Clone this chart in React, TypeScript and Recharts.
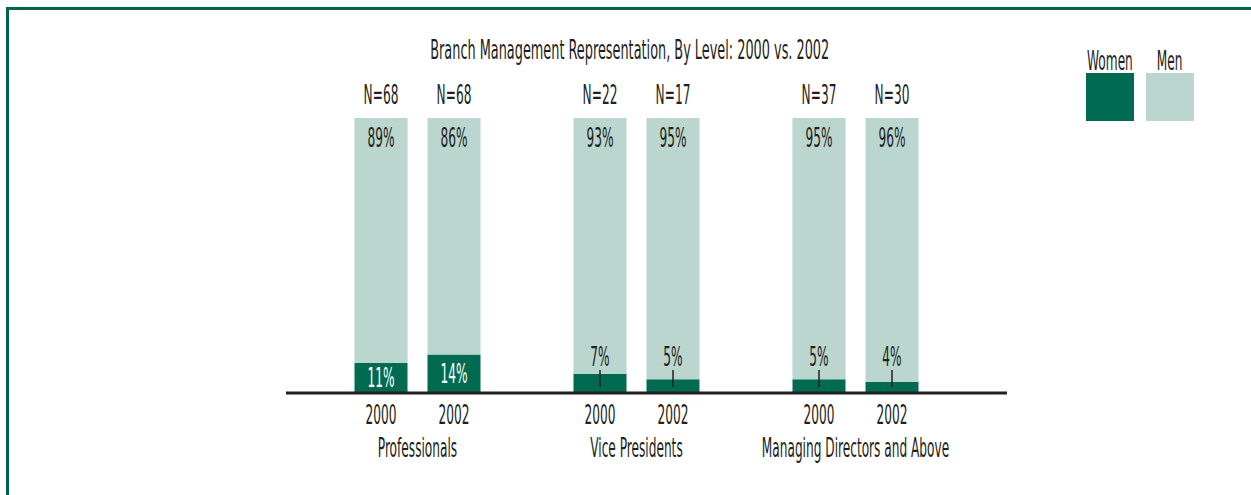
import React from 'react';
import { BarChart, Bar, XAxis, YAxis, LabelList, Legend } from 'recharts';

const groups = ['Professionals', 'Vice Presidents', 'Managing Directors and Above'];
const years = ['2000', '2002'];
const women = [11, 14, 7, 5, 5, 4];
const men = [89, 86, 93, 95, 95, 96];
const counts = [68, 68, 22, 17, 37, 30];
const legendOrder = ['Women', 'Men'];

const DARK = '#006b50';
const LIGHT = '#bad6cf';
const INK = '#231f20';
const FRAME = '#00654a';
const FONT = "'DejaVu Sans Condensed', 'Liberation Sans Narrow', sans-serif";
const SX = 0.52;
const TITLE_SX = 0.55;

// two bars per level, with an empty slot between levels
const rows: any[] = [];
groups.forEach((g, gi) => {
  if (gi > 0) rows.push({ key: 'gap' + gi, year: '', group: '', women: null, men: null, n: null });
  years.forEach((yr, yi) => {
    const i = gi * 2 + yi;
    rows.push({ key: g + yr, year: yr, group: yi === 0 ? g : '', women: women[i], men: men[i], n: counts[i] });
  });
});

const Narrow = ({ x, y, fill = INK, children }: any) => (
  <text
    transform={`translate(${x},${y}) scale(${SX},1)`}
    textAnchor="middle"
    fontFamily={FONT}
    fontSize={26}
    fill={fill}
  >
    {children}
  </text>
);

const YearTick = (props: any) => {
  const { x, y, payload } = props;
  const row = rows[payload.index];
  if (!row || !row.year) return null;
  return (
    <g>
      <Narrow x={x} y={y + 31}>{row.year}</Narrow>
      {row.group && <Narrow x={x + (payload.offset ?? 36.5)} y={y + 64}>{row.group}</Narrow>}
    </g>
  );
};

const WomenLabel = (p: any) => {
  const { value } = p;
  if (value == null) return null;
  const x = Number(p.x), y = Number(p.y), w = Number(p.width), h = Number(p.height);
  const cx = x + w / 2;
  const base = y + h;
  if (value >= 10) {
    return <Narrow x={cx} y={y + h / 2 + 9} fill="#ffffff">{value}%</Narrow>;
  }
  return (
    <g>
      <Narrow x={cx} y={base - 27}>{value}%</Narrow>
      <line x1={cx} x2={cx} y1={base - 23} y2={base - 6} stroke={INK} strokeWidth={1.5} />
    </g>
  );
};

const MenLabel = (p: any) => {
  if (p.value == null) return null;
  return <Narrow x={Number(p.x) + Number(p.width) / 2} y={Number(p.y) + 29}>{p.value}%</Narrow>;
};

const CountLabel = (p: any) => {
  if (p.value == null) return null;
  return <Narrow x={Number(p.x) + Number(p.width) / 2} y={Number(p.y) - 14}>N={p.value}</Narrow>;
};

const narrowSpan = (sx: number): React.CSSProperties => ({
  display: 'inline-block',
  transform: `scaleX(${sx})`,
  transformOrigin: 'center',
  whiteSpace: 'nowrap',
  flexShrink: 0,
});

const LegendBox = ({ payload }: any) => {
  const items = [...(payload || [])].sort(
    (a: any, b: any) => legendOrder.indexOf(a.value) - legendOrder.indexOf(b.value)
  );
  return (
    <div style={{ display: 'flex', gap: 12 }}>
      {items.map((item: any) => (
        <div key={item.value} style={{ width: 48 }}>
          <div
            style={{
              width: 48,
              height: 22,
              lineHeight: '22px',
              fontFamily: FONT,
              fontSize: 26,
              color: INK,
              display: 'flex',
              justifyContent: 'center',
              marginBottom: 1,
            }}
          >
            <span style={narrowSpan(SX)}>{item.value}</span>
          </div>
          <div style={{ width: 48, height: 48, background: item.color }} />
        </div>
      ))}
    </div>
  );
};

export default function App() {
  return (
    <div style={{ position: 'absolute', left: 0, top: 0, width: 1251, height: 495, background: '#fff', overflow: 'hidden' }}>
      <div style={{ position: 'absolute', left: 6, top: 7, right: 0, bottom: 0, borderLeft: `3px solid ${FRAME}`, borderTop: `3px solid ${FRAME}` }} />
      <div style={{ position: 'absolute', left: 4.5, top: 37, width: 1251, textAlign: 'center', fontFamily: FONT, fontSize: 26, lineHeight: '26px', color: INK }}>
        <span style={narrowSpan(TITLE_SX)}>Branch Management Representation, By Level: 2000 vs. 2002</span>
      </div>
      <div style={{ position: 'absolute', left: 0, top: 0 }}>
        <BarChart
          width={1251}
          height={495}
          data={rows}
          margin={{ top: 118, right: 244, bottom: 2, left: 286 }}
          barCategoryGap={10}
        >
          <YAxis hide domain={[0, 100]} />
          <XAxis
            dataKey="key"
            height={100}
            interval={0}
            tickLine={false}
            tickSize={0}
            tickMargin={0}
            padding={{ left: 58.5, right: 78.5 }}
            axisLine={{ stroke: INK, strokeWidth: 3 }}
            tick={<YearTick />}
          />
          <Legend
            layout="horizontal"
            verticalAlign="middle"
            align="center"
            content={<LegendBox />}
            wrapperStyle={{ left: 1086, top: 50, width: 120, height: 75 }}
          />
          <Bar dataKey="women" stackId="a" name="Women" fill={DARK} isAnimationActive={false}>
            <LabelList dataKey="women" content={<WomenLabel />} />
          </Bar>
          <Bar dataKey="men" stackId="a" name="Men" fill={LIGHT} isAnimationActive={false}>
            <LabelList dataKey="men" content={<MenLabel />} />
            <LabelList dataKey="n" content={<CountLabel />} />
          </Bar>
        </BarChart>
      </div>
    </div>
  );
}
